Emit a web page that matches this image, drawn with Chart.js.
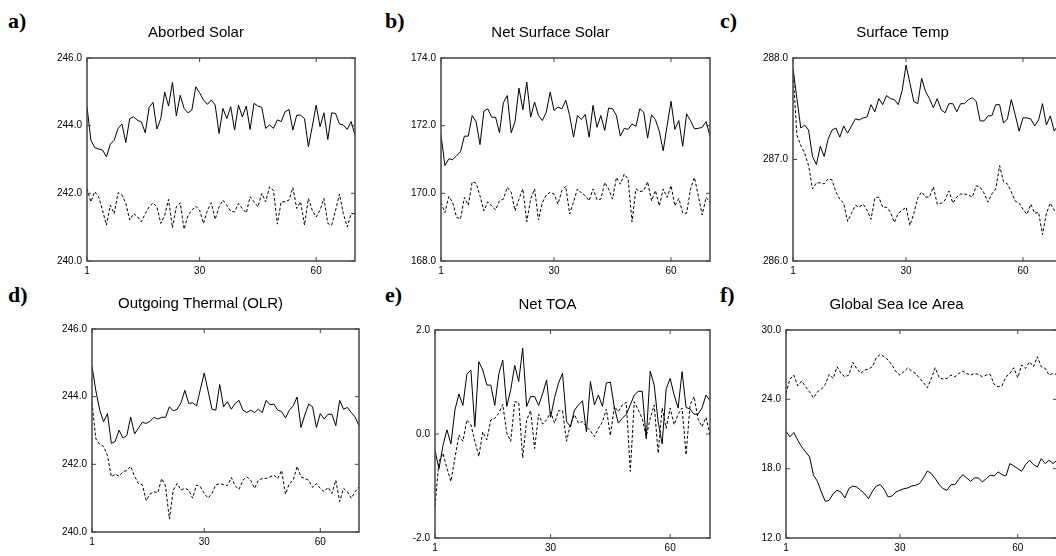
<!DOCTYPE html>
<html lang="en">
<head>
<meta charset="UTF-8" />
<title>Model diagnostics</title>
<script src="https://cdn.jsdelivr.net/npm/chart.js@4.4.1/dist/chart.umd.min.js"></script>
<style>
  html, body { margin: 0; padding: 0; background: #fff; }
  #page { position: relative; width: 1056px; height: 556px; overflow: hidden; }
  #page canvas { position: absolute; }
  .tag { position: absolute; font: bold 22px "Liberation Serif", "Times New Roman", serif; line-height: 22px; color: #000; }
</style>
</head>
<body>
<div id="page">
  <div class="tag" style="left:8px;top:10px">a)</div>
  <div class="tag" style="left:385px;top:10px">b)</div>
  <div class="tag" style="left:720px;top:10px">c)</div>
  <div class="tag" style="left:8px;top:284px">d)</div>
  <div class="tag" style="left:385px;top:284px">e)</div>
  <div class="tag" style="left:720px;top:284px">f)</div>
</div>
<script>
// x ticks shared by every panel
var xTicks = [1, 30, 60];
var steps = Array.from({ length: 70 }, function (_, i) { return i + 1; });

// a) Aborbed Solar
var absSolid = [244.56, 243.57, 243.35, 243.31, 243.28, 243.08, 243.45, 243.57, 243.92, 244.05,
  243.50, 244.21, 244.26, 244.16, 244.11, 243.79, 244.54, 244.69, 243.90, 244.21,
  244.99, 244.58, 245.28, 244.29, 244.90, 244.51, 244.38, 244.46, 245.15, 244.97,
  244.76, 244.63, 244.76, 244.61, 243.77, 244.51, 244.21, 244.56, 243.87, 244.61,
  244.26, 244.58, 243.89, 244.66, 244.58, 244.54, 243.92, 244.02, 243.92, 244.17,
  244.12, 244.41, 244.48, 243.87, 244.31, 244.31, 244.21, 243.38, 243.97, 244.61,
  243.97, 244.38, 243.59, 244.38, 244.36, 244.05, 244.02, 243.89, 244.12, 243.72];
var absDashed = [242.14, 241.75, 242.05, 241.90, 241.50, 241.06, 241.65, 241.40, 242.02, 241.95,
  241.70, 241.21, 241.40, 241.31, 241.16, 241.40, 241.60, 241.72, 241.60, 241.11,
  241.35, 241.82, 240.98, 241.60, 241.72, 240.94, 241.35, 241.50, 241.62, 241.50,
  241.11, 241.50, 241.72, 241.23, 241.60, 241.80, 241.65, 241.47, 241.45, 241.70,
  241.55, 241.42, 241.90, 241.75, 241.60, 242.00, 241.75, 242.19, 242.09, 241.09,
  241.75, 241.75, 241.80, 242.17, 241.55, 241.75, 241.06, 241.85, 241.50, 241.30,
  241.50, 241.85, 241.11, 241.06, 241.50, 241.98, 241.40, 241.01, 241.40, 241.40];
var absTicks = [240, 242, 244, 246];

// b) Net Surface Solar
var sfcSolid = [171.73, 170.82, 171.02, 171.00, 171.11, 171.23, 171.69, 171.69, 172.30, 172.12,
  171.44, 172.43, 172.50, 172.25, 172.25, 171.79, 172.68, 172.89, 171.79, 172.12,
  173.11, 172.47, 173.29, 172.25, 172.70, 172.30, 172.15, 172.40, 172.99, 172.45,
  172.55, 172.50, 172.75, 172.30, 171.66, 172.30, 172.18, 172.33, 171.66, 172.60,
  171.95, 172.30, 171.86, 172.52, 172.50, 172.30, 171.69, 171.92, 171.89, 172.05,
  171.98, 172.50, 172.40, 171.63, 172.32, 172.18, 171.83, 171.26, 172.00, 172.72,
  171.89, 172.15, 171.39, 172.35, 172.15, 171.91, 171.92, 171.95, 172.12, 171.69];
var sfcDashed = [169.73, 169.43, 169.91, 169.73, 169.29, 169.24, 169.88, 169.65, 170.34, 170.30,
  169.93, 169.48, 169.75, 169.63, 169.51, 169.78, 169.83, 170.18, 170.03, 169.48,
  169.83, 170.13, 169.16, 169.83, 170.13, 169.21, 169.73, 169.95, 170.03, 169.98,
  169.68, 170.08, 170.21, 169.39, 169.75, 170.13, 170.01, 169.93, 169.78, 170.13,
  169.81, 169.83, 170.32, 170.13, 169.83, 170.47, 170.27, 170.57, 170.42, 169.16,
  170.13, 170.05, 170.08, 170.34, 169.78, 170.08, 169.63, 170.13, 169.88, 170.23,
  169.63, 169.85, 169.42, 169.41, 170.13, 170.47, 169.93, 169.36, 169.88, 169.73];
var sfcTicks = [168, 170, 172, 174];

// c) Surface Temp
var tempSolid = [287.90, 287.60, 287.31, 287.34, 287.29, 287.03, 286.95, 287.13, 287.03, 287.20,
  287.29, 287.31, 287.22, 287.33, 287.26, 287.33, 287.40, 287.39, 287.41, 287.42,
  287.54, 287.47, 287.60, 287.54, 287.63, 287.60, 287.59, 287.54, 287.68, 287.93,
  287.75, 287.57, 287.55, 287.80, 287.67, 287.60, 287.51, 287.60, 287.49, 287.46,
  287.55, 287.55, 287.47, 287.55, 287.55, 287.59, 287.61, 287.57, 287.38, 287.38,
  287.43, 287.43, 287.54, 287.54, 287.36, 287.40, 287.59, 287.44, 287.28, 287.41,
  287.41, 287.40, 287.33, 287.39, 287.55, 287.34, 287.43, 287.28, 287.34, 287.30];
var tempDashed = [287.88, 287.24, 287.14, 287.06, 286.94, 286.71, 286.77, 286.77, 286.76, 286.81,
  286.80, 286.68, 286.61, 286.57, 286.39, 286.47, 286.55, 286.53, 286.56, 286.50,
  286.41, 286.62, 286.63, 286.53, 286.53, 286.48, 286.38, 286.47, 286.50, 286.53,
  286.35, 286.47, 286.62, 286.68, 286.63, 286.63, 286.73, 286.56, 286.57, 286.60,
  286.69, 286.57, 286.63, 286.66, 286.66, 286.65, 286.63, 286.74, 286.73, 286.67,
  286.58, 286.66, 286.71, 286.94, 286.78, 286.76, 286.68, 286.59, 286.57, 286.51,
  286.46, 286.56, 286.47, 286.48, 286.26, 286.47, 286.57, 286.50, 286.48, 286.50];
var tempTicks = [286, 287, 288];

// d) Outgoing Thermal (OLR)
var olrSolid = [244.90, 244.17, 243.60, 243.26, 243.50, 242.62, 242.68, 243.01, 242.78, 242.85,
  243.40, 242.90, 243.07, 243.24, 243.21, 243.27, 243.39, 243.34, 243.39, 243.39,
  243.70, 243.58, 243.63, 243.82, 244.19, 243.80, 243.82, 243.73, 244.21, 244.70,
  244.17, 243.63, 243.60, 244.36, 243.70, 243.85, 243.63, 243.80, 243.89, 243.60,
  243.53, 243.60, 243.53, 243.63, 243.53, 243.89, 243.76, 243.78, 243.60, 243.56,
  243.37, 243.60, 243.73, 243.99, 243.09, 243.46, 243.78, 243.70, 243.09, 243.50,
  243.34, 243.48, 243.48, 243.14, 243.89, 243.63, 243.68, 243.53, 243.40, 243.14];
var olrDashed = [243.82, 242.75, 242.59, 242.53, 242.26, 241.63, 241.71, 241.65, 241.78, 241.82,
  241.94, 241.65, 241.43, 241.40, 240.93, 241.12, 241.19, 241.16, 241.58, 241.36,
  240.38, 241.24, 241.43, 241.24, 241.29, 241.24, 241.00, 241.39, 241.34, 241.14,
  241.00, 241.14, 241.39, 241.43, 241.40, 241.37, 241.61, 241.36, 241.26, 241.53,
  241.63, 241.53, 241.29, 241.53, 241.58, 241.58, 241.63, 241.68, 241.58, 241.82,
  241.12, 241.43, 241.53, 241.94, 241.63, 241.58, 241.53, 241.32, 241.43, 241.29,
  241.19, 241.32, 241.14, 241.53, 240.90, 241.29, 241.19, 241.00, 241.19, 241.34];
var olrTicks = [240, 242, 244, 246];

// e) Net TOA
var toaSolid = [-0.32, -0.67, -0.22, 0.08, -0.19, 0.46, 0.77, 0.55, 1.15, 1.23,
  0.14, 1.39, 1.23, 0.94, 0.94, 0.55, 1.15, 1.42, 0.53, 0.85,
  1.32, 1.01, 1.65, 0.53, 0.72, 0.72, 0.55, 0.77, 1.04, 0.32,
  0.70, 0.98, 1.17, 0.24, 0.14, 0.46, 0.56, 0.64, 0.04, 1.01,
  0.56, 0.75, 0.53, 0.98, 1.00, 0.51, 0.21, 0.30, 0.38, 0.56,
  0.75, 0.82, 0.82, -0.09, 1.21, 0.94, 0.23, -0.19, 0.87, 1.07,
  0.75, 0.50, 1.20, 0.51, 0.48, 0.38, 0.38, 0.50, 0.75, 0.64];
var toaDashed = [-1.39, -0.53, -0.37, -0.66, -0.91, -0.46, -0.02, -0.14, 0.27, 0.18,
  -0.14, -0.43, 0.04, -0.11, 0.27, 0.30, 0.40, 0.57, 0.02, -0.14,
  0.62, 0.61, -0.46, 0.27, 0.45, -0.28, 0.38, 0.19, 0.27, 0.42,
  0.21, 0.45, 0.45, -0.14, 0.19, 0.37, 0.21, 0.24, 0.14, 0.06,
  -0.05, 0.11, 0.23, 0.48, -0.03, 0.53, 0.43, 0.56, 0.61, -0.72,
  0.62, 0.46, 0.30, -0.05, 0.30, 0.56, -0.37, 0.50, 0.11, 0.50,
  0.18, 0.38, 0.50, -0.40, 0.56, 0.72, 0.29, 0.14, 0.32, -0.02];
var toaTicks = [-2, 0, 2];

// f) Global Sea Ice Area
var iceSolid = [21.24, 20.75, 21.13, 20.46, 19.88, 19.45, 19.02, 17.43, 16.91, 15.98,
  15.17, 15.26, 15.84, 16.13, 15.98, 15.46, 16.27, 16.50, 16.42, 16.13,
  15.84, 15.40, 16.04, 16.50, 16.62, 16.21, 15.55, 15.64, 15.98, 16.13,
  16.27, 16.33, 16.50, 16.56, 16.71, 17.20, 17.80, 17.57, 17.14, 16.62,
  16.27, 16.13, 16.62, 16.62, 17.08, 17.49, 17.20, 16.91, 17.20, 17.20,
  16.85, 17.14, 17.43, 17.37, 17.72, 17.49, 17.37, 18.44, 18.24, 18.01,
  17.77, 18.35, 18.73, 18.35, 18.15, 18.87, 18.44, 18.73, 18.44, 18.73];
var iceDashed = [24.51, 25.75, 26.10, 25.17, 25.58, 25.09, 24.65, 24.13, 24.65, 24.88,
  25.29, 26.16, 25.81, 26.82, 26.24, 25.95, 26.10, 27.20, 26.68, 26.24,
  26.53, 26.62, 26.82, 27.60, 27.89, 27.69, 27.40, 26.97, 26.39, 26.10,
  26.39, 26.73, 26.45, 26.24, 25.84, 25.45, 25.00, 25.81, 26.73, 25.87,
  25.75, 25.81, 26.10, 25.95, 26.24, 26.45, 26.24, 26.10, 26.24, 26.16,
  25.95, 26.10, 26.16, 25.29, 25.09, 25.17, 25.95, 26.24, 26.73, 25.87,
  26.97, 26.68, 27.25, 26.82, 27.69, 26.82, 26.68, 26.10, 26.24, 26.16];
var iceTicks = [12, 18, 24, 30];

var AXIS_W = 50, TITLE_H = 34, XAXIS_H = 20;
var page = document.getElementById('page');

// box around the plot area with small inward ticks
var framePlugin = {
  id: 'frame',
  afterDatasetsDraw: function (chart, args, opts) {
    var ctx = chart.ctx, a = chart.chartArea, sx = chart.scales.x, sy = chart.scales.y;
    ctx.save();
    ctx.strokeStyle = '#444';
    ctx.lineWidth = 1.5;
    ctx.strokeRect(a.left, a.top, a.right - a.left, a.bottom - a.top);
    ctx.lineWidth = 1;
    ctx.beginPath();
    xTicks.forEach(function (v) {
      var x = sx.getPixelForValue(v);
      ctx.moveTo(x, a.top); ctx.lineTo(x, a.top + 4);
      ctx.moveTo(x, a.bottom); ctx.lineTo(x, a.bottom - 4);
    });
    opts.yTicks.forEach(function (v) {
      var y = sy.getPixelForValue(v);
      ctx.moveTo(a.left, y); ctx.lineTo(a.left + 4, y);
      ctx.moveTo(a.right, y); ctx.lineTo(a.right - 4, y);
    });
    ctx.stroke();
    ctx.restore();
  }
};

function points(vals) {
  return steps.map(function (s, i) { return { x: s, y: vals[i] }; });
}

function drawPanel(p) {
  var c = document.createElement('canvas');
  c.width = AXIS_W + (p.right - p.left) + AXIS_W;
  c.height = TITLE_H + (p.bottom - p.top) + XAXIS_H;
  c.style.left = (p.left - AXIS_W) + 'px';
  c.style.top = (p.top - TITLE_H) + 'px';
  page.appendChild(c);

  new Chart(c, {
    type: 'line',
    data: {
      datasets: [
        { data: points(p.solid), borderColor: '#000', borderWidth: 1, pointRadius: 0, tension: 0 },
        { data: points(p.dashed), borderColor: '#000', borderWidth: 1, borderDash: [3, 2], pointRadius: 0, tension: 0 }
      ]
    },
    plugins: [framePlugin],
    options: {
      responsive: false,
      animation: false,
      layout: { padding: { left: 0, right: AXIS_W, top: 0, bottom: 0 } },
      plugins: {
        legend: { display: false },
        tooltip: { enabled: false },
        title: {
          display: true,
          text: p.title,
          color: '#000',
          font: { family: '"Liberation Sans", Arial, sans-serif', size: 15, weight: 'normal' },
          padding: { top: 0, bottom: TITLE_H - 18 }
        },
        frame: { yTicks: p.yTicks }
      },
      scales: {
        x: {
          type: 'linear',
          min: 1,
          max: 70,
          afterBuildTicks: function (s) { s.ticks = xTicks.map(function (v) { return { value: v }; }); },
          afterFit: function (s) { s.height = XAXIS_H; },
          grid: { display: false, drawTicks: false },
          border: { display: false },
          ticks: { color: '#000', padding: 4, maxRotation: 0, autoSkip: false,
            font: { family: '"Liberation Sans", Arial, sans-serif', size: 10 } }
        },
        y: {
          min: p.yTicks[0],
          max: p.yTicks[p.yTicks.length - 1],
          afterBuildTicks: function (s) { s.ticks = p.yTicks.map(function (v) { return { value: v }; }); },
          afterFit: function (s) { s.width = AXIS_W; },
          grid: { display: false, drawTicks: false },
          border: { display: false },
          ticks: { color: '#000', padding: 5,
            callback: function (v) { return Number(v).toFixed(1); },
            font: { family: '"Liberation Sans", Arial, sans-serif', size: 10 } }
        }
      }
    }
  });
}

drawPanel({ title: 'Aborbed Solar', solid: absSolid, dashed: absDashed, yTicks: absTicks, left: 87, right: 355, top: 58, bottom: 261 });
drawPanel({ title: 'Net Surface Solar', solid: sfcSolid, dashed: sfcDashed, yTicks: sfcTicks, left: 441, right: 710, top: 58, bottom: 261 });
drawPanel({ title: 'Surface Temp', solid: tempSolid, dashed: tempDashed, yTicks: tempTicks, left: 793, right: 1062, top: 58, bottom: 261 });
drawPanel({ title: 'Outgoing Thermal (OLR)', solid: olrSolid, dashed: olrDashed, yTicks: olrTicks, left: 92, right: 359, top: 329, bottom: 532 });
drawPanel({ title: 'Net TOA', solid: toaSolid, dashed: toaDashed, yTicks: toaTicks, left: 435, right: 710, top: 330, bottom: 538 });
drawPanel({ title: 'Global Sea Ice Area', solid: iceSolid, dashed: iceDashed, yTicks: iceTicks, left: 786, right: 1057, top: 330, bottom: 538 });
</script>
</body>
</html>
